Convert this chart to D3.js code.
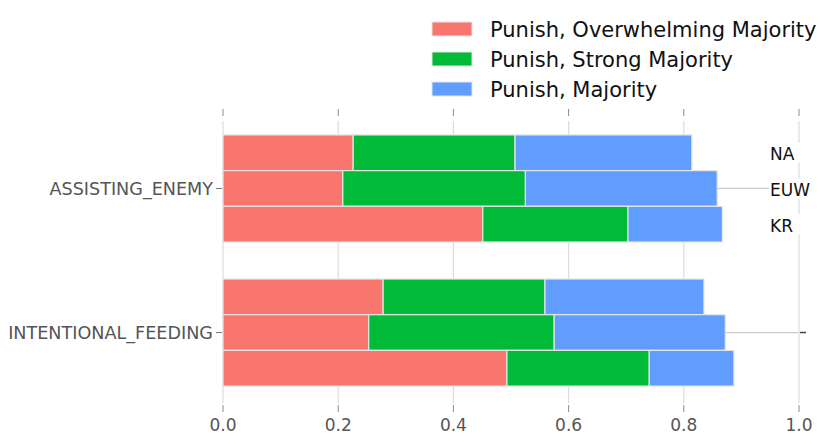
<!DOCTYPE html>
<html>
<head>
<meta charset="utf-8">
<script src="https://cdn.jsdelivr.net/npm/d3@7"></script>
<style>
  body { margin: 0; background: #fff; }
  text { font-family: "DejaVu Sans", sans-serif; }
</style>
</head>
<body>
<div id="chart"></div>
<script>
// data
const causes = ["ASSISTING_ENEMY", "INTENTIONAL_FEEDING"];
const regions = ["NA", "EUW", "KR"];
const series = ["Punish, Overwhelming Majority", "Punish, Strong Majority", "Punish, Majority"];
const colors = ["#F8766D", "#00BA38", "#619CFF"];
// values[cause][region] = [overwhelming, strong, majority]
const assistingEnemy = [[0.226, 0.281, 0.307], [0.208, 0.317, 0.333], [0.451, 0.252, 0.164]];
const intentionalFeeding = [[0.278, 0.281, 0.276], [0.253, 0.322, 0.297], [0.493, 0.247, 0.147]];
const xTicks = [0, 0.2, 0.4, 0.6, 0.8, 1.0];

const values = [assistingEnemy, intentionalFeeding];

const W = 830, H = 447;
const plot = { left: 223, right: 799, top: 121, bottom: 403 };

const svg = d3.select("#chart").append("svg")
  .attr("width", W).attr("height", H);

const x = d3.scaleLinear().domain([0, 1]).range([plot.left, plot.right]);
const y = d3.scaleBand().domain(causes).range([116.5, 404.5])
  .paddingInner(0.257).paddingOuter(0.128);
const yInner = d3.scaleBand().domain(regions).range([0, y.bandwidth()]);

// vertical grid
svg.append("g").selectAll("line")
  .data(xTicks)
  .enter().append("line")
    .attr("x1", d => x(d)).attr("x2", d => x(d))
    .attr("y1", plot.top).attr("y2", plot.bottom)
    .attr("stroke", "#dcdcdc").attr("stroke-width", 1.2);

// horizontal grid at group centres
svg.append("g").selectAll("line")
  .data(causes)
  .enter().append("line")
    .attr("x1", plot.left).attr("x2", plot.right)
    .attr("y1", d => y(d) + y.bandwidth() / 2).attr("y2", d => y(d) + y.bandwidth() / 2)
    .attr("stroke", "#cccccc").attr("stroke-width", 1.2);

// top & bottom ticks
[[109, 116], [405, 412]].forEach(function(r) {
  svg.append("g").selectAll("line")
    .data(xTicks)
    .enter().append("line")
      .attr("x1", d => x(d)).attr("x2", d => x(d))
      .attr("y1", r[0]).attr("y2", r[1])
      .attr("stroke", "#8a8a8a").attr("stroke-width", 1);
});

// x tick labels
svg.append("g").selectAll("text")
  .data(xTicks)
  .enter().append("text")
    .attr("x", d => x(d)).attr("y", 431)
    .attr("text-anchor", "middle")
    .attr("fill", "#555")
    .style("font-size", "17px")
    .text(d => d3.format(".1f")(d));

// bars
causes.forEach(function(c, ci) {
  regions.forEach(function(r, ri) {
    const stacked = d3.cumsum(values[ci][ri]);
    const segs = values[ci][ri].map((v, k) => ({ x0: stacked[k] - v, x1: stacked[k], k: k }));
    svg.append("g").selectAll("rect")
      .data(segs)
      .enter().append("rect")
        .attr("x", d => x(d.x0))
        .attr("width", d => x(d.x1) - x(d.x0))
        .attr("y", y(c) + yInner(r))
        .attr("height", yInner.bandwidth())
        .attr("fill", d => colors[d.k])
        .attr("stroke", "#e6e6e6").attr("stroke-width", 1.2);
  });
});

// left axis labels
svg.append("g").selectAll("text")
  .data(causes)
  .enter().append("text")
    .attr("x", 213).attr("y", d => y(d) + y.bandwidth() / 2)
    .attr("dy", "0.36em")
    .attr("text-anchor", "end")
    .attr("fill", "#555")
    .style("font-size", "17.6px")
    .text(d => d);
svg.append("g").selectAll("line")
  .data(causes)
  .enter().append("line")
    .attr("x1", 216).attr("x2", 222)
    .attr("y1", d => y(d) + y.bandwidth() / 2).attr("y2", d => y(d) + y.bandwidth() / 2)
    .attr("stroke", "#777").attr("stroke-width", 1);

// right ticks
svg.append("g").selectAll("line")
  .data(causes)
  .enter().append("line")
    .attr("x1", 800).attr("x2", 806)
    .attr("y1", d => y(d) + y.bandwidth() / 2).attr("y2", d => y(d) + y.bandwidth() / 2)
    .attr("stroke", "#444").attr("stroke-width", 1.5);

// region labels (first group only) with white box
const rl = svg.append("g").selectAll("g")
  .data(regions)
  .enter().append("g")
    .attr("transform", d => "translate(770," + (y(causes[0]) + yInner(d) + yInner.bandwidth() / 2) + ")");
rl.append("rect")
  .attr("x", -1).attr("y", -10).attr("width", 48).attr("height", 20)
  .attr("fill", "#fff");
rl.append("text")
  .attr("dy", "0.45em")
  .attr("fill", "#111")
  .style("font-size", "17px")
  .text(d => d);

// legend
const lg = svg.append("g").selectAll("g")
  .data(series)
  .enter().append("g")
    .attr("transform", (d, i) => "translate(432," + (22 + i * 30) + ")");
lg.append("rect")
  .attr("width", 40).attr("height", 14)
  .attr("fill", (d, i) => colors[i])
  .attr("stroke", "#e6e6e6").attr("stroke-width", 1);
lg.append("text")
  .attr("x", 58).attr("y", 7).attr("dy", "0.36em")
  .attr("fill", "#111")
  .style("font-size", "21px")
  .text(d => d);
</script>
</body>
</html>
